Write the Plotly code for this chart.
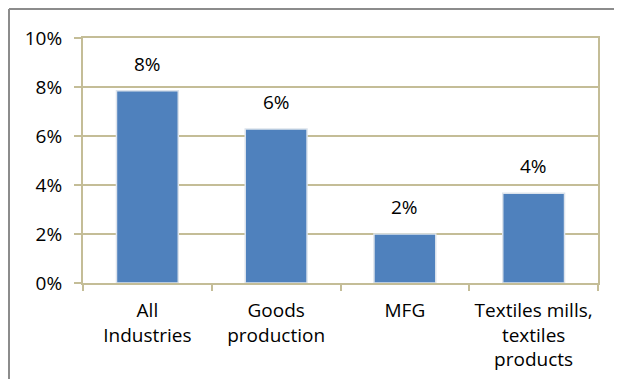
import plotly.graph_objects as go

categories = ["All<br>Industries", "Goods<br>production", "MFG", "Textiles mills,<br>textiles<br>products"]
values = [7.85, 6.29, 2.0, 3.66]
labels = ["8%", "6%", "2%", "4%"]
tick_vals = [0, 2, 4, 6, 8, 10]
tick_text = ["0%", "2%", "4%", "6%", "8%", "10%"]

FONT = "Open Sans"
FS = 19
TAN = "#C4BD97"

fig = go.Figure()
fig.add_trace(go.Bar(
    x=categories, y=values,
    marker=dict(color="#4F81BD", line=dict(color="#DCE3EC", width=1.5)),
    hoverinfo="skip",
))

for c, v, t in zip(categories, values, labels):
    fig.add_annotation(x=c, y=v, text=t, showarrow=False, yanchor="bottom",
                       yshift=12, font=dict(family=FONT, size=FS, color="black"))

W, H = 606, 371
L, T, R, B = 75, 30, 16, 96
PW, PH = W - L - R, H - T - B

x_left = (1 - L) / PW
x_right = (W - L) / PW
y_top = (T + PH - 1) / PH
y_bot = -(H - T - PH) / PH

fig.update_layout(
    width=W, height=H,
    margin=dict(l=L, r=R, t=T, b=B, autoexpand=False),
    paper_bgcolor="white", plot_bgcolor="white",
    bargap=0.52,
    showlegend=False,
    font=dict(family=FONT, size=FS, color="black"),
    xaxis=dict(
        type="category", tickson="boundaries", ticks="outside", ticklen=6,
        tickcolor=TAN, tickwidth=2, showline=True, linecolor=TAN, linewidth=2,
        mirror=True, showgrid=False, tickfont=dict(family=FONT, size=FS),
        ticklabelstandoff=9, automargin=False,
    ),
    yaxis=dict(
        range=[0, 10], tickvals=tick_vals, ticktext=tick_text,
        ticks="outside", ticklen=7, tickcolor=TAN, tickwidth=2,
        showline=True, linecolor=TAN, linewidth=2, mirror=True,
        showgrid=True, gridcolor=TAN, gridwidth=2, zeroline=False,
        tickfont=dict(family=FONT, size=FS), ticklabelstandoff=8,
        automargin=False,
    ),
    shapes=[
        dict(type="line", xref="paper", yref="paper",
             x0=x_left, x1=x_right, y0=y_top, y1=y_top,
             line=dict(color="#8C8C8C", width=2), layer="below"),
        dict(type="line", xref="paper", yref="paper",
             x0=x_left, x1=x_left, y0=y_top, y1=y_bot,
             line=dict(color="#8C8C8C", width=2), layer="below"),
    ],
)

fig.write_html("out.html")
